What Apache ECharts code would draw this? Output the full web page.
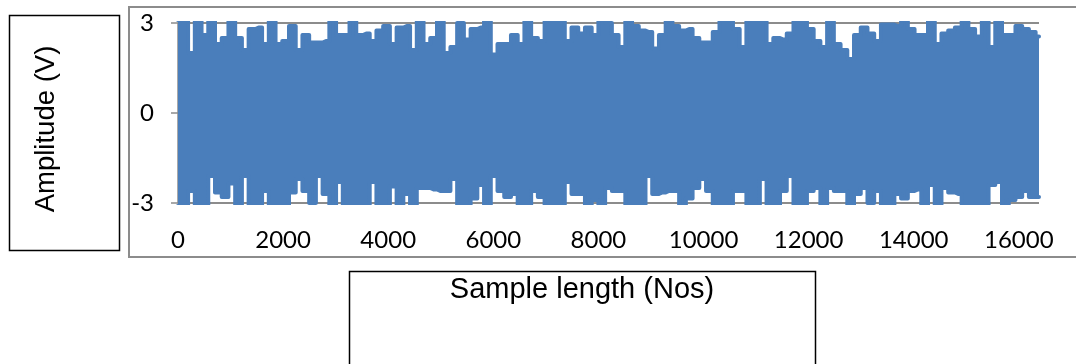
<!DOCTYPE html>
<html>
<head>
<meta charset="utf-8">
<script src="https://cdn.jsdelivr.net/npm/echarts@6/dist/echarts.min.js"></script>
<style>
  html, body { margin: 0; padding: 0; background: #fff; }
  #chart { width: 1076px; height: 364px; }
</style>
</head>
<body>
<div id="chart"></div>
<script>
// envelope of the signal, one value every 128 samples
const sampleStep = 128;
const upperEnv = [
  3.1, 3.1, 2.0, 3.1, 2.6, 3.1, 2.3, 2.5, 3.1, 2.5,
  2.1, 2.8, 2.85, 2.3, 3.1, 2.3, 2.4, 2.9, 2.1, 2.6,
  2.35, 2.35, 2.4, 3.1, 2.6, 2.6, 3.1, 2.6, 2.65, 2.4,
  2.75, 2.9, 2.3, 2.85, 2.9, 2.1, 3.1, 2.3, 2.5, 3.1,
  2.0, 2.2, 3.0, 2.45, 2.8, 2.85, 3.1, 1.95, 2.3, 2.3,
  2.6, 2.3, 3.1, 2.5, 2.4, 3.1, 3.1, 3.1, 2.4, 2.85,
  2.65, 2.85, 2.6, 3.1, 3.0, 2.6, 2.2, 3.1, 2.9, 2.75,
  2.7, 2.15, 2.6, 3.1, 2.9, 2.75, 2.8, 2.5, 2.35, 2.35,
  2.7, 3.1, 3.1, 2.8, 2.2, 3.1, 3.1, 3.1, 2.3, 2.5,
  2.45, 2.65, 3.1, 3.1, 2.8, 2.4, 2.2, 3.1, 2.3, 2.1,
  1.8, 2.6, 2.85, 2.65, 2.4, 2.95, 2.95, 2.9, 3.1, 2.8,
  2.6, 2.6, 3.1, 2.3, 2.65, 2.75, 2.85, 3.1, 2.8, 2.55,
  3.1, 2.2, 3.1, 2.6, 2.6, 2.9, 2.8, 2.7, 2.55
];
const lowerEnv = [
  -3.1, -3.1, -2.6, -3.1, -3.1, -2.1, -2.65, -2.8, -2.35, -3.1,
  -2.1, -3.1, -3.1, -2.6, -3.1, -3.1, -3.1, -2.65, -2.2, -2.6,
  -3.0, -2.1, -2.7, -3.1, -2.3, -3.1, -3.1, -3.1, -3.1, -2.3,
  -3.1, -3.1, -2.45, -3.1, -2.7, -3.1, -2.5, -2.5, -2.55, -2.6,
  -2.6, -2.2, -3.1, -3.1, -2.85, -2.4, -3.1, -2.1, -2.6, -2.8,
  -2.7, -3.1, -3.1, -2.6, -2.8, -3.1, -3.1, -3.1, -2.3, -2.7,
  -2.7, -3.1, -2.9, -3.1, -2.5, -2.6, -2.6, -3.1, -3.1, -3.1,
  -2.1, -2.7, -2.65, -2.6, -2.6, -3.1, -2.85, -2.5, -2.2, -2.6,
  -3.1, -3.0, -3.1, -2.6, -2.6, -3.1, -3.1, -2.2, -3.1, -3.1,
  -2.6, -2.1, -3.1, -3.1, -2.6, -2.5, -3.1, -2.5, -2.6, -2.6,
  -3.1, -2.7, -2.5, -3.0, -2.6, -3.1, -3.1, -2.7, -2.85, -2.6,
  -2.55, -3.1, -2.4, -3.1, -2.5, -2.65, -2.7, -3.1, -3.1, -3.0,
  -3.1, -2.4, -2.3, -3.1, -2.9, -2.8, -2.6, -2.8, -2.8
];
const xTicks = { min: 0, max: 16384, interval: 2000 };
const yTicks = { min: -3, max: 3, interval: 3 };

const blue = "#4a7ebb";
const grey = "#8c8c8c";

const upperData = upperEnv.map((v, i) => [i * sampleStep, v]);
const lowerData = lowerEnv.map((v, i) => [i * sampleStep, v]);

const chart = echarts.init(document.getElementById("chart"));

const envSeries = (data) => ({
  type: "line",
  data,
  symbol: "none",
  step: "middle",
  clip: true,
  animation: false,
  lineStyle: { color: blue, width: 4, cap: "round", join: "round" },
  areaStyle: { color: blue, opacity: 1, origin: 0 }
});

chart.setOption({
  animation: false,
  grid: { left: 178, right: 37, top: 23, bottom: 161 },
  xAxis: {
    type: "value",
    min: xTicks.min,
    max: xTicks.max,
    interval: xTicks.interval,
    axisLine: { show: false },
    axisTick: { show: false },
    splitLine: { show: false },
    axisLabel: {
      showMaxLabel: false,
      margin: 25,
      color: "#000",
      fontFamily: "Lato",
      fontSize: 24,
      formatter: (v) => String(v)
    }
  },
  yAxis: {
    type: "value",
    min: yTicks.min,
    max: yTicks.max,
    interval: yTicks.interval,
    axisLine: { show: true, lineStyle: { color: grey, width: 1.5 } },
    axisTick: { show: true, length: 7, lineStyle: { color: grey, width: 1.5 } },
    splitLine: { show: true, lineStyle: { color: grey, width: 2 } },
    axisLabel: {
      margin: 24,
      color: "#000",
      fontFamily: "Lato",
      fontSize: 24
    }
  },
  graphic: [
    // chart-area border
    {
      type: "rect",
      shape: { x: 129, y: 7, width: 1000, height: 250 },
      style: { fill: null, stroke: grey, lineWidth: 2 },
      z: -1
    },
    // y title box
    {
      type: "rect",
      shape: { x: 9.5, y: 15.5, width: 110, height: 235 },
      style: { fill: "#fff", stroke: "#000", lineWidth: 1.5 }
    },
    {
      type: "text",
      x: 46,
      y: 129,
      rotation: Math.PI / 2,
      style: {
        text: "Amplitude (V)",
        font: "27.5px 'Liberation Sans', Arial, sans-serif",
        fill: "#000",
        align: "center",
        verticalAlign: "middle"
      }
    },
    // x title box
    {
      type: "rect",
      shape: { x: 349.5, y: 271.5, width: 466, height: 120 },
      style: { fill: "#fff", stroke: "#000", lineWidth: 1.5 }
    },
    {
      type: "text",
      x: 582,
      y: 290,
      style: {
        text: "Sample length (Nos)",
        font: "29px 'Liberation Sans', Arial, sans-serif",
        fill: "#000",
        align: "center",
        verticalAlign: "middle"
      }
    }
  ],
  series: [envSeries(upperData), envSeries(lowerData)]
});
</script>
</body>
</html>
